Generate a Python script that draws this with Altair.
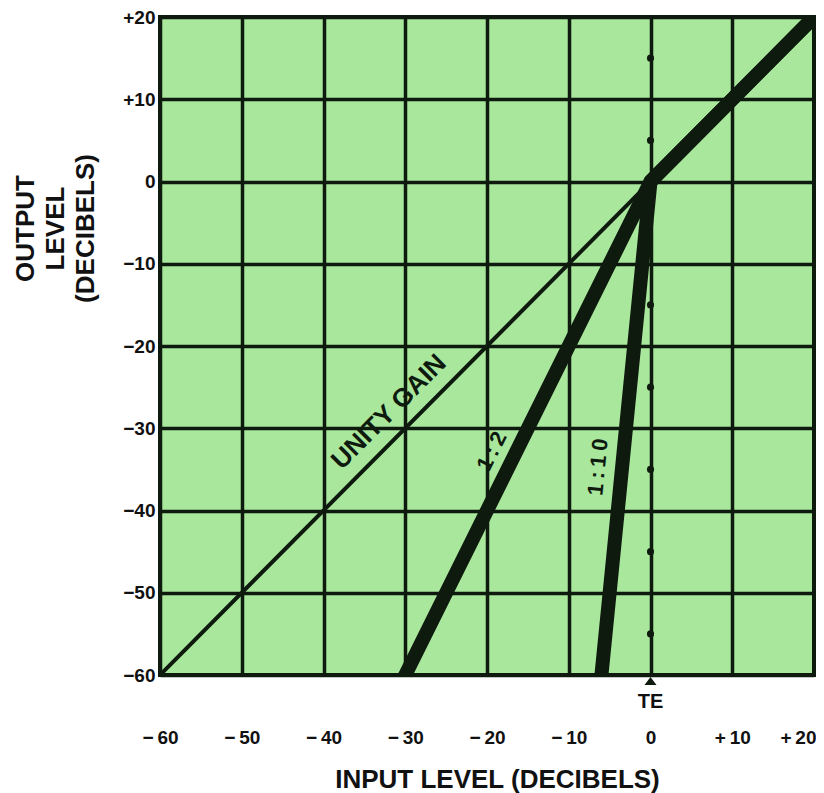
import altair as alt
import pandas as pd

# ---- data -------------------------------------------------------------
axis_ticks = [-60, -50, -40, -30, -20, -10, 0, 10, 20]
x_tick_labels = ["\u2212\u200960", "\u2212\u200950", "\u2212\u200940", "\u2212\u200930",
                 "\u2212\u200920", "\u2212\u200910", "0", "+\u200910", "+\u200920"]
y_tick_labels = ["\u221260", "\u221250", "\u221240", "\u221230", "\u221220",
                 "\u221210", "0", "+10", "+20"]

unity_x = [-60, 0]
unity_y = [-60, 0]
ratio2_x = [-30, 0, 20]
ratio2_y = [-60, 0, 20]
ratio10_x = [-6, 0, 20]
ratio10_y = [-60, 0, 20]

te_dot_y = [15, 5, -15, -25, -35, -45, -55]

label_text = ["UNITY GAIN", "1\u2009:\u20092", "1\u2009:\u20091\u20090"]
label_x = [-30, -17, -3.5]
label_y = [-30, -34, -35]

# ---- frames -----------------------------------------------------------
unity_df = pd.DataFrame({"x": unity_x, "y": unity_y, "o": range(len(unity_x))})
thick_df = pd.concat([
    pd.DataFrame({"x": ratio2_x, "y": ratio2_y, "series": "1:2", "o": range(len(ratio2_x))}),
    pd.DataFrame({"x": ratio10_x, "y": ratio10_y, "series": "1:10", "o": range(len(ratio10_x))}),
])
dots_df = pd.DataFrame({"x": [0] * len(te_dot_y), "y": te_dot_y})
labels_df = pd.DataFrame({"text": label_text, "x": label_x, "y": label_y})
te_df = pd.DataFrame({"x": [0], "y": [-60], "text": ["TE"]})


def expr_map(values, labels):
    parts = [f"datum.value == {v} ? '{l}'" for v, l in zip(values, labels)]
    return " : ".join(parts) + " : ''"


INK = "#0e1a0e"
FONT = "Liberation Sans"

x_scale = alt.Scale(domain=[-60, 20], nice=False, zero=False)
y_scale = alt.Scale(domain=[-60, 20], nice=False, zero=False)

x_axis = alt.Axis(
    values=axis_ticks, labelExpr=expr_map(axis_ticks, x_tick_labels),
    grid=True, gridColor=INK, gridWidth=3.5, gridOpacity=1,
    ticks=False, domain=False,
    labelFont=FONT, labelFontWeight="bold", labelFontSize=19, labelColor="#111",
    labelPadding=62, labelBaseline="middle",
    labelAlign={"condition": {"test": "datum.value == 20", "value": "right"}, "value": "center"},
    labelOffset={"condition": {"test": "datum.value == 20", "value": 2}, "value": 0},
    labelOverlap=False, labelFlush=False,
    title="INPUT LEVEL (DECIBELS)", titleFont=FONT, titleFontWeight="bold",
    titleFontSize=26, titleColor="#111", titleX=337, titleY=112,
    titleAlign="center", titleBaseline="alphabetic", titleAnchor="start",
)
y_axis = alt.Axis(
    values=axis_ticks, labelExpr=expr_map(axis_ticks, y_tick_labels),
    grid=True, gridColor=INK, gridWidth=3.5, gridOpacity=1,
    ticks=False, domain=False,
    labelFont=FONT, labelFontWeight="bold", labelFontSize=19, labelColor="#111",
    labelPadding=5, labelBaseline="middle", labelAlign="right",
    labelOverlap=False, labelFlush=False,
    title=["OUTPUT", "LEVEL", "(DECIBELS)"], titleFont=FONT, titleFontWeight="bold",
    titleFontSize=26, titleColor="#111", titleAngle=270, titleX=-135, titleY=211,
    titleAlign="center", titleBaseline="middle", titleLineHeight=30, titleAnchor="start",
)

base_x = alt.X("x:Q", scale=x_scale, axis=x_axis)
base_y = alt.Y("y:Q", scale=y_scale, axis=y_axis)

unity = alt.Chart(unity_df).mark_line(
    color=INK, strokeWidth=4, clip=True, strokeCap="square"
).encode(x=base_x, y=base_y, order="o:Q")

thick = alt.Chart(thick_df).mark_line(
    color=INK, strokeWidth=14, clip=True, strokeCap="square", strokeJoin="round"
).encode(x="x:Q", y="y:Q", detail="series:N", order="o:Q")

dots = alt.Chart(dots_df).mark_point(
    filled=True, shape="circle", size=50, color=INK, opacity=1
).encode(x="x:Q", y="y:Q")

lab_style = dict(font=FONT, fontWeight="bold", color=INK, align="center", baseline="middle")
unity_lab = alt.Chart(labels_df.iloc[[0]]).mark_text(
    angle=315, dy=-23, fontSize=26, **lab_style
).encode(x="x:Q", y="y:Q", text="text:N")
r2_lab = alt.Chart(labels_df.iloc[[1]]).mark_text(
    angle=296.6, dy=-22, fontSize=22, **lab_style
).encode(x="x:Q", y="y:Q", text="text:N")
r10_lab = alt.Chart(labels_df.iloc[[2]]).mark_text(
    angle=275.7, dy=-24, fontSize=22, **lab_style
).encode(x="x:Q", y="y:Q", text="text:N")

te_tri = alt.Chart(te_df).mark_point(
    filled=True, shape="M-0.6,1.0L0.6,1.0L0,0.2Z", size=400, color=INK, opacity=1
).encode(x="x:Q", y="y:Q")
te_txt = alt.Chart(te_df).mark_text(
    dy=27, fontSize=20, font=FONT, fontWeight="bold", color="#111",
    align="center", baseline="middle"
).encode(x="x:Q", y="y:Q", text="text:N")

chart = alt.layer(
    unity, thick, dots, unity_lab, r2_lab, r10_lab, te_tri, te_txt
).properties(
    width=654, height=658,
    autosize=alt.AutoSizeParams(type="none"),
    padding={"left": 152, "top": 9, "right": 2, "bottom": 118},
    background="white",
).configure_view(
    fill="#a9e79c", stroke=INK, strokeWidth=4
)

chart.save("out.html", embed_options={"renderer": "svg", "actions": False})
